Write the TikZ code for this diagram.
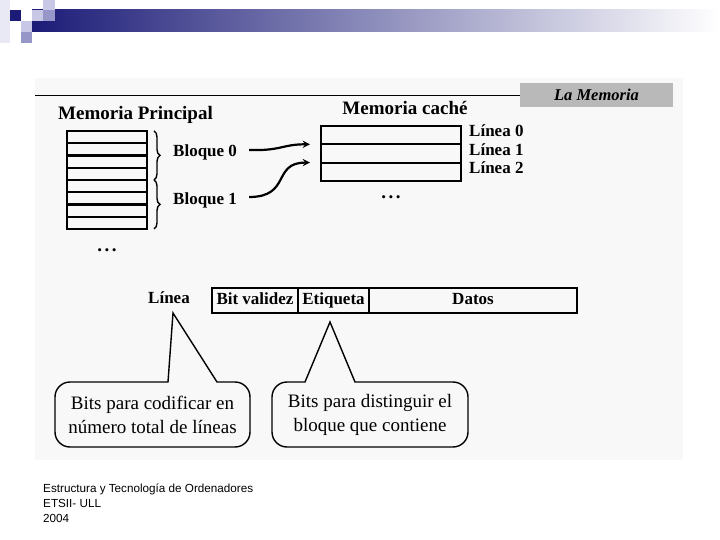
\documentclass[tikz,border=0pt]{standalone}
\usepackage{fontspec}
\setmainfont{Liberation Serif}
\newfontfamily\footfont{Liberation Sans}
\usetikzlibrary{positioning,decorations.pathreplacing}
\definecolor{navy}{RGB}{28,28,120}
\definecolor{lila}{RGB}{200,200,230}
\definecolor{lilamid}{RGB}{150,150,200}
\definecolor{paper}{RGB}{248,248,248}

\begin{document}
\begin{tikzpicture}[x=1pt, y=-1pt,
        head/.style={font=\fontsize{19}{22}\selectfont\bfseries, inner sep=0pt},
        lbl/.style={font=\fontsize{17}{20}\selectfont\bfseries, inner sep=0pt},
        mrow/.style={draw, line width=2.2pt, minimum width=80pt, minimum height=12.25pt, inner sep=0pt, outer sep=0pt},
        crow/.style={draw, line width=2pt, minimum width=140pt, minimum height=18.3pt, inner sep=0pt, outer sep=0pt},
        field/.style={draw, line width=2pt, minimum height=25pt, inner sep=0pt, outer sep=0pt, text height=11.5pt, text depth=3.5pt, font=\fontsize{17}{20}\selectfont\bfseries},
        bubble/.style={draw, line width=1.4pt, fill=paper},
        note/.style={align=center, inner sep=0pt, font=\fontsize{19}{24}\selectfont},
        arr/.style={->, line width=2.2pt, >=stealth}
    ]
        \useasboundingbox (0,0) rectangle (720,540);
        \fill[white] (0,0) rectangle (720,540);
        % slide decoration
        \shade[left color=navy, middle color={rgb,255:red,165;green,165;blue,190}, right color=white] (32,10) rectangle (720,32);
        \fill[lila!40] (0,0) rectangle (10,43);
        \fill[lila] (43,0) rectangle (55,10);
        \fill[lila] (32,10) rectangle (43,21);
        \fill[lilamid] (43,10) rectangle (55,21);
        \fill[navy] (10,10) rectangle (21,21);
        \fill[lila] (21,21) rectangle (32,32);
        \fill[lilamid] (21,32) rectangle (32,43);
        \fill[paper] (35,78) rectangle (683,460);

        % title bar
        \node[fill=gray!55, minimum width=153pt, minimum height=24pt, inner sep=0pt,
              font=\fontsize{16.5}{20}\selectfont\bfseries\itshape] (title) at (596.5,95) {La Memoria};
        \coordinate (hl) at (35,95.5);
        \draw[line width=1.5pt] (hl) -- (hl -| title.west);

        % main memory
        \node[head, anchor=west] (mp) at (58,115) {Memoria Principal};
        \foreach \i in {0,...,7}
            \node[mrow] (m\i) at (107,{137.1+12.25*\i}) {};
        \draw[line width=1.4pt, decorate, decoration={brace, amplitude=6pt}] ([xshift=7pt]m0.north east) -- ([xshift=7pt]m3.south east);
        \draw[line width=1.4pt, decorate, decoration={brace, amplitude=6pt}] ([xshift=7pt]m4.north east) -- ([xshift=7pt]m7.south east);
        \node[lbl, anchor=west] (b0) at (173,152) {Bloque 0};
        \node[lbl, anchor=west] (b1) at (173,200) {Bloque 1};
        \node[head] (mpdots) at (107,250) {.\hspace{2.5pt}.\hspace{2.5pt}.};

        % cache
        \node[head] (mc) at (405,108) {Memoria caché};
        \foreach \i in {0,1,2}
            \node[crow] (c\i) at (391,{135.15+18.3*\i}) {};
        \node[lbl, anchor=west] (l0) at (469,131) {Línea 0};
        \node[lbl, anchor=west] (l1) at (469,150) {Línea 1};
        \node[lbl, anchor=west] (l2) at (469,168) {Línea 2};
        \node[head] (mcdots) at (391,197) {.\hspace{2.5pt}.\hspace{2.5pt}.};

        \draw[arr] ([xshift=12pt,yshift=2pt]b0.east) .. controls +(32,1) and +(-28,0) .. ([xshift=-11pt]c1.north west);
        \draw[arr] ([xshift=12pt,yshift=3pt]b1.east) .. controls +(42,0) and +(-38,0) .. ([xshift=-11pt]c2.north west);

        % line fields
        \node[lbl] (lin) at (169,298) {Línea};
        \node[field, minimum width=86pt] (fb) at (255,300.5) {Bit validez};
        \node[field, minimum width=71pt, right=0pt of fb] (fe) {Etiqueta};
        \node[field, minimum width=208pt, right=0pt of fe] (fd) {Datos};

        % callouts
        \coordinate (tip1) at (173,313);
        \coordinate (tip2) at (330,322);
        \draw[bubble] (168,382) -- (tip1) -- (217,382) [rounded corners=15pt] -- (250,382) -- (250,447) -- (55,447) -- (55,382) [sharp corners] -- cycle;
        \draw[bubble] (305,382) -- (tip2) -- (355,382) [rounded corners=15pt] -- (468,382) -- (468,447) -- (272,447) -- (272,382) [sharp corners] -- cycle;
        \node[note] (n1) at (152.5,415) {Bits para codificar en\\número total de líneas};
        \node[note] (n2) at (370,415) {Bits para distinguir el\\bloque que contiene};

        % footer
        \node[anchor=north west, align=left, inner sep=0pt, font=\footfont\fontsize{11.7}{15}\selectfont] (foot) at (43,484)
            {Estructura y Tecnología de Ordenadores\\ETSII- ULL\\2004};
    \end{tikzpicture}
\end{document}
